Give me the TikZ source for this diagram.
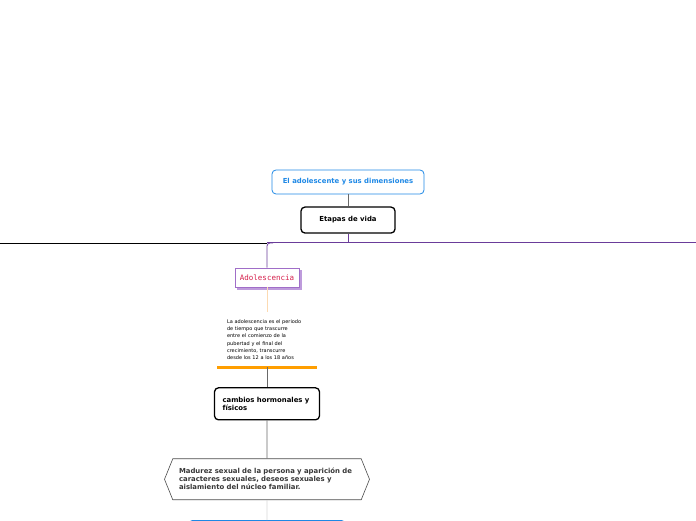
\documentclass[tikz,border=0pt]{standalone}
\usepackage{fontspec}
\setmainfont{DejaVu Sans}
\setmonofont{DejaVu Sans Mono}
\usetikzlibrary{positioning, shapes.symbols, backgrounds}
\definecolor{titleblue}{RGB}{30,136,229}
\definecolor{stagepurple}{RGB}{106,60,154}
\definecolor{adolpurple}{RGB}{160,110,200}
\definecolor{adolshade}{RGB}{190,155,220}
\definecolor{adolred}{RGB}{214,32,76}
\definecolor{peachline}{RGB}{252,218,178}
\definecolor{orangebar}{RGB}{255,158,0}
\definecolor{linegray}{RGB}{105,105,105}
\definecolor{palegray}{RGB}{215,215,215}
\definecolor{hexgray}{RGB}{75,75,75}
\definecolor{textgray}{RGB}{55,55,55}
\tikzset{
  block/.style={
    rounded corners=4pt,
    align=center,
    inner sep=3pt,
    font=\fontsize{6.9}{8.5}\selectfont\bfseries
  },
  topic/.style={block, draw=titleblue, text=titleblue, line width=0.8pt,
    minimum width=152pt, minimum height=24pt},
  stage/.style={block, draw=black, line width=1.3pt,
    minimum width=94pt, minimum height=26pt},
  adol/.style={draw=adolpurple, fill=white, line width=0.8pt, text=adolred,
    minimum width=64pt, minimum height=19pt, inner sep=2pt,
    font=\fontsize{7.5}{9}\selectfont\ttfamily},
  note/.style={align=left, text width=80pt, inner xsep=9.5pt, inner ysep=7pt,
    font=\fontsize{5}{7.3}\selectfont},
  change/.style={block, draw=black, line width=1.3pt, align=left,
    text width=89pt, minimum width=105pt, minimum height=32pt},
  hexa/.style={signal, signal to=west and east, signal pointer angle=136,
    draw=hexgray, line width=0.6pt, text=textgray, align=left,
    text width=176pt, minimum width=205pt, minimum height=41pt, inner sep=0pt,
    font=\fontsize{6.9}{8}\selectfont\bfseries},
  nextbox/.style={draw=titleblue, rounded corners=4pt, line width=0.8pt,
    minimum width=157pt, minimum height=24pt},
  link/.style={draw=linegray, line width=0.6pt},
  palelink/.style={draw=palegray, line width=0.8pt},
  branch/.style={draw=stagepurple, line width=1pt}
}

\begin{document}
\begin{tikzpicture}[x=1pt, y=1pt]
  \useasboundingbox (0,0) rectangle (696,520);

  \node[topic] (title) at (348,338) {El adolescente y sus dimensiones};
  \node[stage, below=12pt of title] (etapas) {Etapas de vida};

  \coordinate (hleft) at (0,277);
  \coordinate (hright) at (696,277);

  \node[adol] (adol) at (267,242.5) {Adolescencia};
  \node[note, below=25pt of adol] (def) {La adolescencia es el periodo\\
    de tiempo que trascurre\\
    entre el comienzo de la\\
    pubertad y el final del\\
    crecimiento, transcurre\\
    desde los 12 a los 18 años};
  \node[change, below=20pt of def] (cambios) {cambios hormonales y\\físicos};
  \node[hexa, below=38pt of cambios] (madurez) {Madurez sexual de la persona y aparición de\\
    caracteres sexuales, deseos sexuales y\\
    aislamiento del núcleo familiar.};
  \node[nextbox, below=20pt of madurez] (next) {};

  \coordinate (fork) at (adol.north |- hleft);

  \draw[link] (title) -- (etapas);
  \draw[branch] (etapas.south) -- (etapas.south |- hleft);
  \draw[line width=0.8pt] (hleft) -- (fork);
  \draw[branch] (fork) -- (hright);
  \draw[branch, line width=0.8pt, rounded corners=3pt] (adol.north) |- ([xshift=6pt]fork);
  \draw[draw=peachline, line width=0.8pt] (adol) -- (def);
  \draw[draw=orangebar, line width=3pt] (def.south west) -- (def.south east);
  \draw[link] (def) -- (cambios);
  \draw[link] (cambios) -- (madurez);
  \draw[palelink] (madurez) -- (next);

  \begin{scope}[on background layer]
    \fill[adolshade] ([shift={(2.5pt,-2.5pt)}]adol.south west)
      rectangle ([shift={(2.5pt,-2.5pt)}]adol.north east);
  \end{scope}
\end{tikzpicture}
\end{document}
